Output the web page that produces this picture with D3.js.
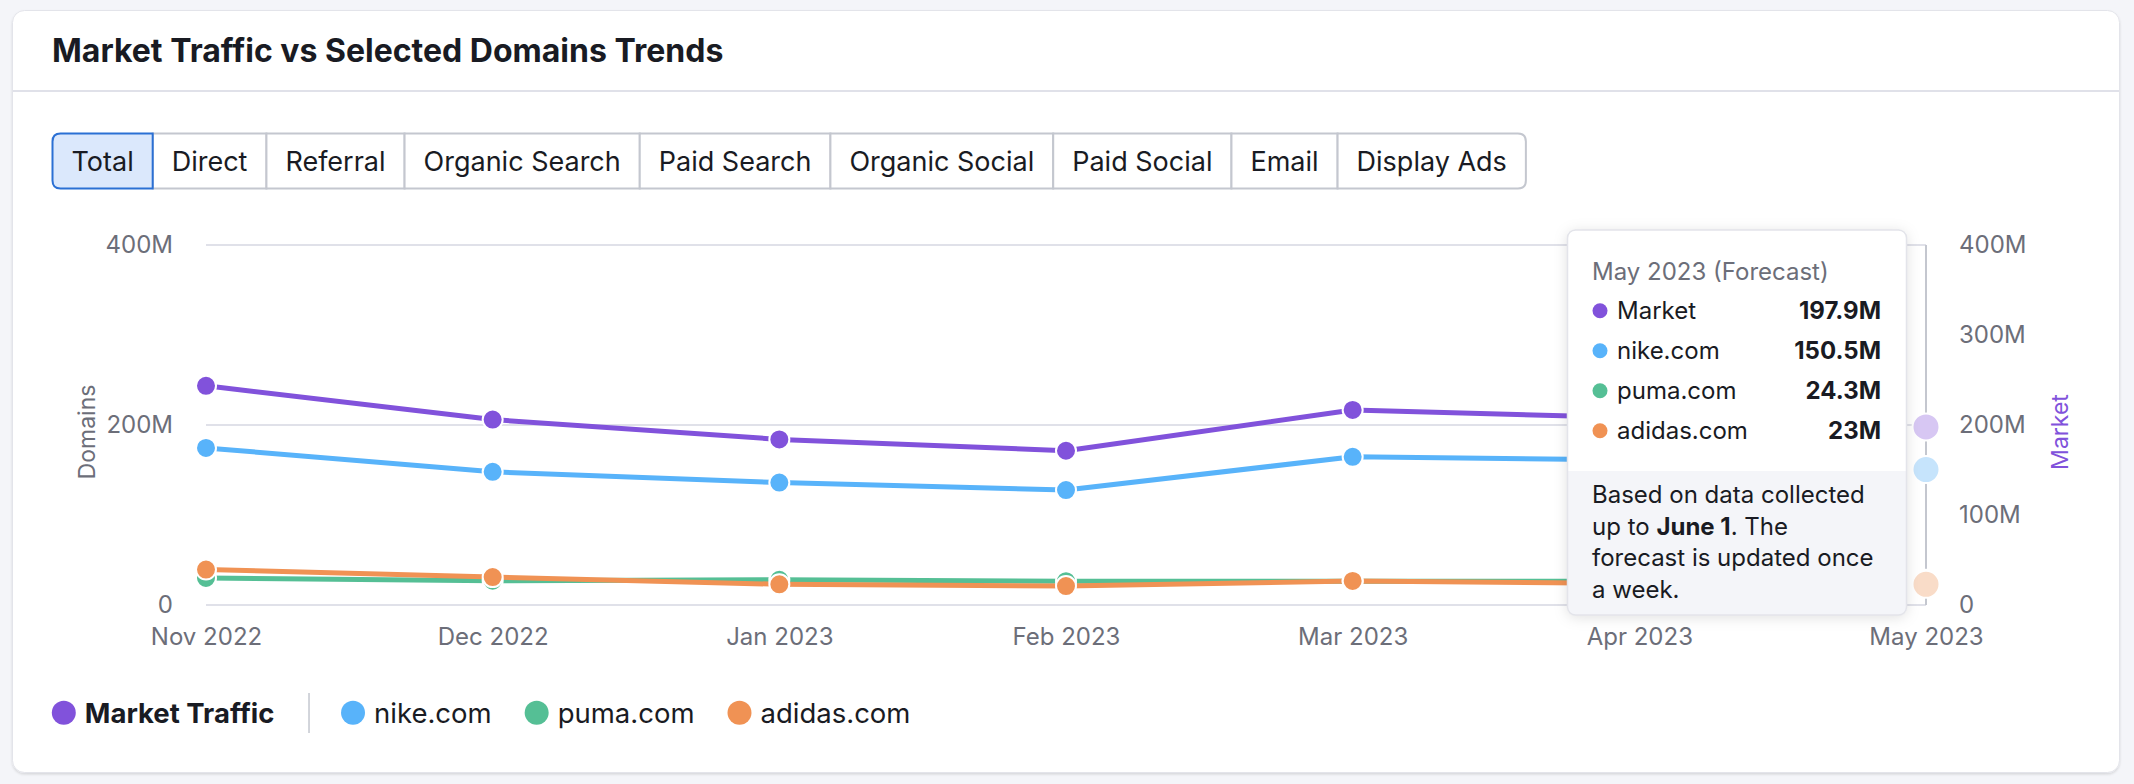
<!DOCTYPE html>
<html>
<head>
<meta charset="utf-8">
<script src="https://cdn.jsdelivr.net/npm/d3@7"></script>
<style>
  html, body { margin: 0; padding: 0; background: #f4f5f9; }
  svg { display: block; font-family: Inter, "Noto Sans", sans-serif; }
</style>
</head>
<body>
<svg id="chart" width="2134" height="784"></svg>
<script>
// ---------- data ----------
const months = ["Nov 2022", "Dec 2022", "Jan 2023", "Feb 2023", "Mar 2023", "Apr 2023", "May 2023"];
const marketValues = [243.5, 206, 184, 171.4, 216.7, 208, 197.9];
const nikeValues   = [174.5, 148, 136, 127.7, 164.7, 161, 150.5];
const pumaValues   = [30, 27, 28, 26.5, 26.5, 26.5, 24.3];
const adidasValues = [39.4, 31, 23, 21, 26.7, 24, 23];
const leftTicks  = [0, 200, 400];
const rightTicks = [0, 100, 200, 300, 400];
const tabs = ["Total", "Direct", "Referral", "Organic Search", "Paid Search", "Organic Social", "Paid Social", "Email", "Display Ads"];
const seriesNames = ["Market", "nike.com", "puma.com", "adidas.com"];
const tooltipValues = ["197.9M", "150.5M", "24.3M", "23M"];
const forecastIndex = 6;

const colors = { market: "#8152db", nike: "#58b3fa", puma: "#55bf95", adidas: "#f09254" };
const faded  = { market: "#d7c7f3", nike: "#c6e4fc", puma: "#cdeee0", adidas: "#f9dcc8" };

const svg = d3.select("#chart");
const defs = svg.append("defs");
const sh = defs.append("filter").attr("id", "shadow").attr("x", "-20%").attr("y", "-20%").attr("width", "140%").attr("height", "140%");
sh.append("feDropShadow").attr("dx", 0).attr("dy", 2).attr("stdDeviation", 7).attr("flood-color", "#000").attr("flood-opacity", 0.13);
const cs = defs.append("filter").attr("id", "cardshadow").attr("x", "-5%").attr("y", "-5%").attr("width", "110%").attr("height", "110%");
cs.append("feDropShadow").attr("dx", 0).attr("dy", 1.5).attr("stdDeviation", 1).attr("flood-color", "#000").attr("flood-opacity", 0.12);

// ---------- card ----------
svg.append("rect").attr("x", 12.5).attr("y", 10.5).attr("width", 2107).attr("height", 762)
  .attr("rx", 12).attr("fill", "#fff").attr("stroke", "#e3e4ea").attr("filter", "url(#cardshadow)");
svg.append("text").attr("x", 52).attr("y", 62).attr("font-size", 32).attr("font-weight", 700)
  .attr("fill", "#191b23").text("Market Traffic vs Selected Domains Trends");
svg.append("line").attr("x1", 13).attr("x2", 2119).attr("y1", 91).attr("y2", 91)
  .attr("stroke", "#e0e1e9").attr("stroke-width", 2);

// ---------- tabs ----------
const tabG = svg.append("g");
let tx = 52.5;
const tabTop = 133.5, tabH = 55, pad = 19;
const tabBoxes = [];
tabs.forEach((t, i) => {
  const tmp = tabG.append("text").attr("font-size", 27).text(t);
  const w = tmp.node().getComputedTextLength() + pad * 2;
  tmp.remove();
  tabBoxes.push({ t, x: tx, w, i });
  tx += w;
});
const lastI = tabs.length - 1;
function tabPath(b) {
  const r = 8, x0 = b.x, x1 = b.x + b.w, y0 = tabTop, y1 = tabTop + tabH;
  const rl = b.i === 0 ? r : 0, rr = b.i === lastI ? r : 0;
  return `M${x0 + rl},${y0} H${x1 - rr} ${rr ? `Q${x1},${y0} ${x1},${y0 + rr}` : ""} V${y1 - rr} ${rr ? `Q${x1},${y1} ${x1 - rr},${y1}` : ""} H${x0 + rl} ${rl ? `Q${x0},${y1} ${x0},${y1 - rl}` : ""} V${y0 + rl} ${rl ? `Q${x0},${y0} ${x0 + rl},${y0}` : ""} Z`;
}
tabBoxes.filter(b => b.i !== 0).forEach(b => {
  tabG.append("path").attr("d", tabPath(b)).attr("fill", "#fff").attr("stroke", "#c4c7cf").attr("stroke-width", 2);
});
tabBoxes.filter(b => b.i === 0).forEach(b => {
  tabG.append("path").attr("d", tabPath(b)).attr("fill", "#dbe8fc").attr("stroke", "#2b70d4").attr("stroke-width", 2);
});
tabBoxes.forEach(b => {
  tabG.append("text").attr("x", b.x + b.w / 2).attr("y", tabTop + tabH / 2 + 10).attr("text-anchor", "middle")
    .attr("font-size", 27).attr("fill", "#191b23").text(b.t);
});

// ---------- scales ----------
const x = d3.scalePoint().domain(months).range([206, 1926]);
const yL = d3.scaleLinear().domain([0, 400]).range([605, 245]);
const yR = d3.scaleLinear().domain([0, 400]).range([605, 245]);

// gridlines
const grid = svg.append("g");
grid.selectAll("line").data(leftTicks).join("line")
  .attr("x1", x.range()[0]).attr("x2", x.range()[1])
  .attr("y1", d => yL(d)).attr("y2", d => yL(d))
  .attr("stroke", "#e0e1e9").attr("stroke-width", 2);

// axes
const fmt = d => d === 0 ? "0" : d + "M";
const axL = svg.append("g").attr("transform", "translate(173,0)")
  .call(d3.axisLeft(yL).tickValues(leftTicks).tickFormat(fmt).tickSize(0).tickPadding(0));
const axR = svg.append("g").attr("transform", "translate(1959,0)")
  .call(d3.axisRight(yR).tickValues(rightTicks).tickFormat(fmt).tickSize(0).tickPadding(0));
const axB = svg.append("g").attr("transform", "translate(0,628)")
  .call(d3.axisBottom(x).tickSize(0).tickPadding(0));
[axL, axR, axB].forEach(a => {
  a.select(".domain").remove();
  a.selectAll("text").attr("font-size", 24).attr("fill", "#6c6e79").attr("font-family", "Inter, sans-serif");
});
axB.selectAll("text").attr("dy", "0.71em");

svg.append("text").attr("transform", "translate(87,432) rotate(-90)").attr("text-anchor", "middle")
  .attr("dy", "0.35em").attr("font-size", 23).attr("fill", "#6c6e79").text("Domains");
svg.append("text").attr("transform", "translate(2060,432) rotate(-90)").attr("text-anchor", "middle")
  .attr("dy", "0.35em").attr("font-size", 23).attr("fill", colors.market).text("Market");

// ---------- series ----------
const series = [
  { key: "puma", values: pumaValues, scale: yL },
  { key: "adidas", values: adidasValues, scale: yL },
  { key: "nike", values: nikeValues, scale: yL },
  { key: "market", values: marketValues, scale: yR }
];
const plot = svg.append("g");
series.forEach(s => {
  const pts = s.values.map((v, i) => ({ m: months[i], v, i })).filter(p => p.i < forecastIndex);
  const line = d3.line().x(p => x(p.m)).y(p => s.scale(p.v));
  plot.append("path").datum(pts).attr("d", line).attr("fill", "none")
    .attr("stroke", colors[s.key]).attr("stroke-width", 5).attr("stroke-linejoin", "round");
});
series.forEach(s => {
  const pts = s.values.map((v, i) => ({ m: months[i], v, i })).filter(p => p.i < forecastIndex);
  plot.append("g").selectAll("circle").data(pts).join("circle")
    .attr("cx", p => x(p.m)).attr("cy", p => s.scale(p.v)).attr("r", 10)
    .attr("fill", colors[s.key]).attr("stroke", "#fff").attr("stroke-width", 2);
});

// hover line + forecast dots
const fx = x(months[forecastIndex]);
plot.append("line").attr("x1", fx).attr("x2", fx).attr("y1", yL(400)).attr("y2", yL(0))
  .attr("stroke", "#c4c7cf").attr("stroke-width", 2);
series.forEach(s => {
  plot.append("circle").attr("cx", fx).attr("cy", s.scale(s.values[forecastIndex])).attr("r", 13.5)
    .attr("fill", faded[s.key]).attr("stroke", "#fff").attr("stroke-width", 2);
});

// ---------- tooltip ----------
const tt = svg.append("g");
const ttX = 1567.5, ttY = 230, ttW = 339, ttH = 385, footY = 471;
defs.append("clipPath").attr("id", "ttclip").append("rect")
  .attr("x", ttX).attr("y", ttY).attr("width", ttW).attr("height", ttH).attr("rx", 8);
tt.append("rect").attr("x", ttX).attr("y", ttY).attr("width", ttW).attr("height", ttH).attr("rx", 8)
  .attr("fill", "#fff").attr("filter", "url(#shadow)");
tt.append("rect").attr("x", ttX).attr("y", footY).attr("width", ttW).attr("height", ttY + ttH - footY)
  .attr("fill", "#f4f5f9").attr("clip-path", "url(#ttclip)");
tt.append("rect").attr("x", ttX).attr("y", ttY).attr("width", ttW).attr("height", ttH).attr("rx", 8)
  .attr("fill", "none").attr("stroke", "#e3e4ea").attr("stroke-width", 1.5);
tt.append("text").attr("x", 1592).attr("y", 279.5).attr("font-size", 24).attr("fill", "#6c6e79")
  .text(months[forecastIndex] + " (Forecast)");
const ttKeys = ["market", "nike", "puma", "adidas"];
seriesNames.forEach((n, i) => {
  const by = 319.3 + i * 40;
  tt.append("circle").attr("cx", 1600).attr("cy", by - 8.6).attr("r", 7.5).attr("fill", colors[ttKeys[i]]);
  tt.append("text").attr("x", 1617).attr("y", by).attr("font-size", 24).attr("fill", "#191b23").text(n);
  tt.append("text").attr("x", 1881).attr("y", by).attr("font-size", 24).attr("font-weight", 700)
    .attr("text-anchor", "end").attr("fill", "#191b23").text(tooltipValues[i]);
});
const foot = [
  [["Based on data collected", 400]],
  [["up to ", 400], ["June 1", 700], [". The", 400]],
  [["forecast is updated once", 400]],
  [["a week.", 400]]
];
foot.forEach((parts, i) => {
  const t = tt.append("text").attr("x", 1592).attr("y", 503.3 + i * 31.5).attr("font-size", 24).attr("fill", "#191b23");
  parts.forEach(([s, w]) => t.append("tspan").attr("font-weight", w).text(s));
});

// ---------- legend ----------
const lg = svg.append("g");
const legY = 712.7;
let lx = 51.8;
const legendItems = [
  { name: "Market Traffic", key: "market", bold: true },
  { name: "nike.com", key: "nike" },
  { name: "puma.com", key: "puma" },
  { name: "adidas.com", key: "adidas" }
];
legendItems.forEach((it, i) => {
  lg.append("circle").attr("cx", lx + 12).attr("cy", legY).attr("r", 12).attr("fill", colors[it.key]);
  const t = lg.append("text").attr("x", lx + 33).attr("y", legY + 10).attr("font-size", 27.5)
    .attr("font-weight", it.bold ? 700 : 400).attr("fill", "#191b23").text(it.name);
  const w = t.node().getComputedTextLength();
  let end = lx + 33 + w;
  if (i === 0) {
    lg.append("line").attr("x1", end + 34.5).attr("x2", end + 34.5).attr("y1", 693).attr("y2", 733)
      .attr("stroke", "#c4c7cf").attr("stroke-width", 1.5);
    lx = end + 66.5;
  } else {
    lx = end + 33;
  }
});
</script>
</body>
</html>
